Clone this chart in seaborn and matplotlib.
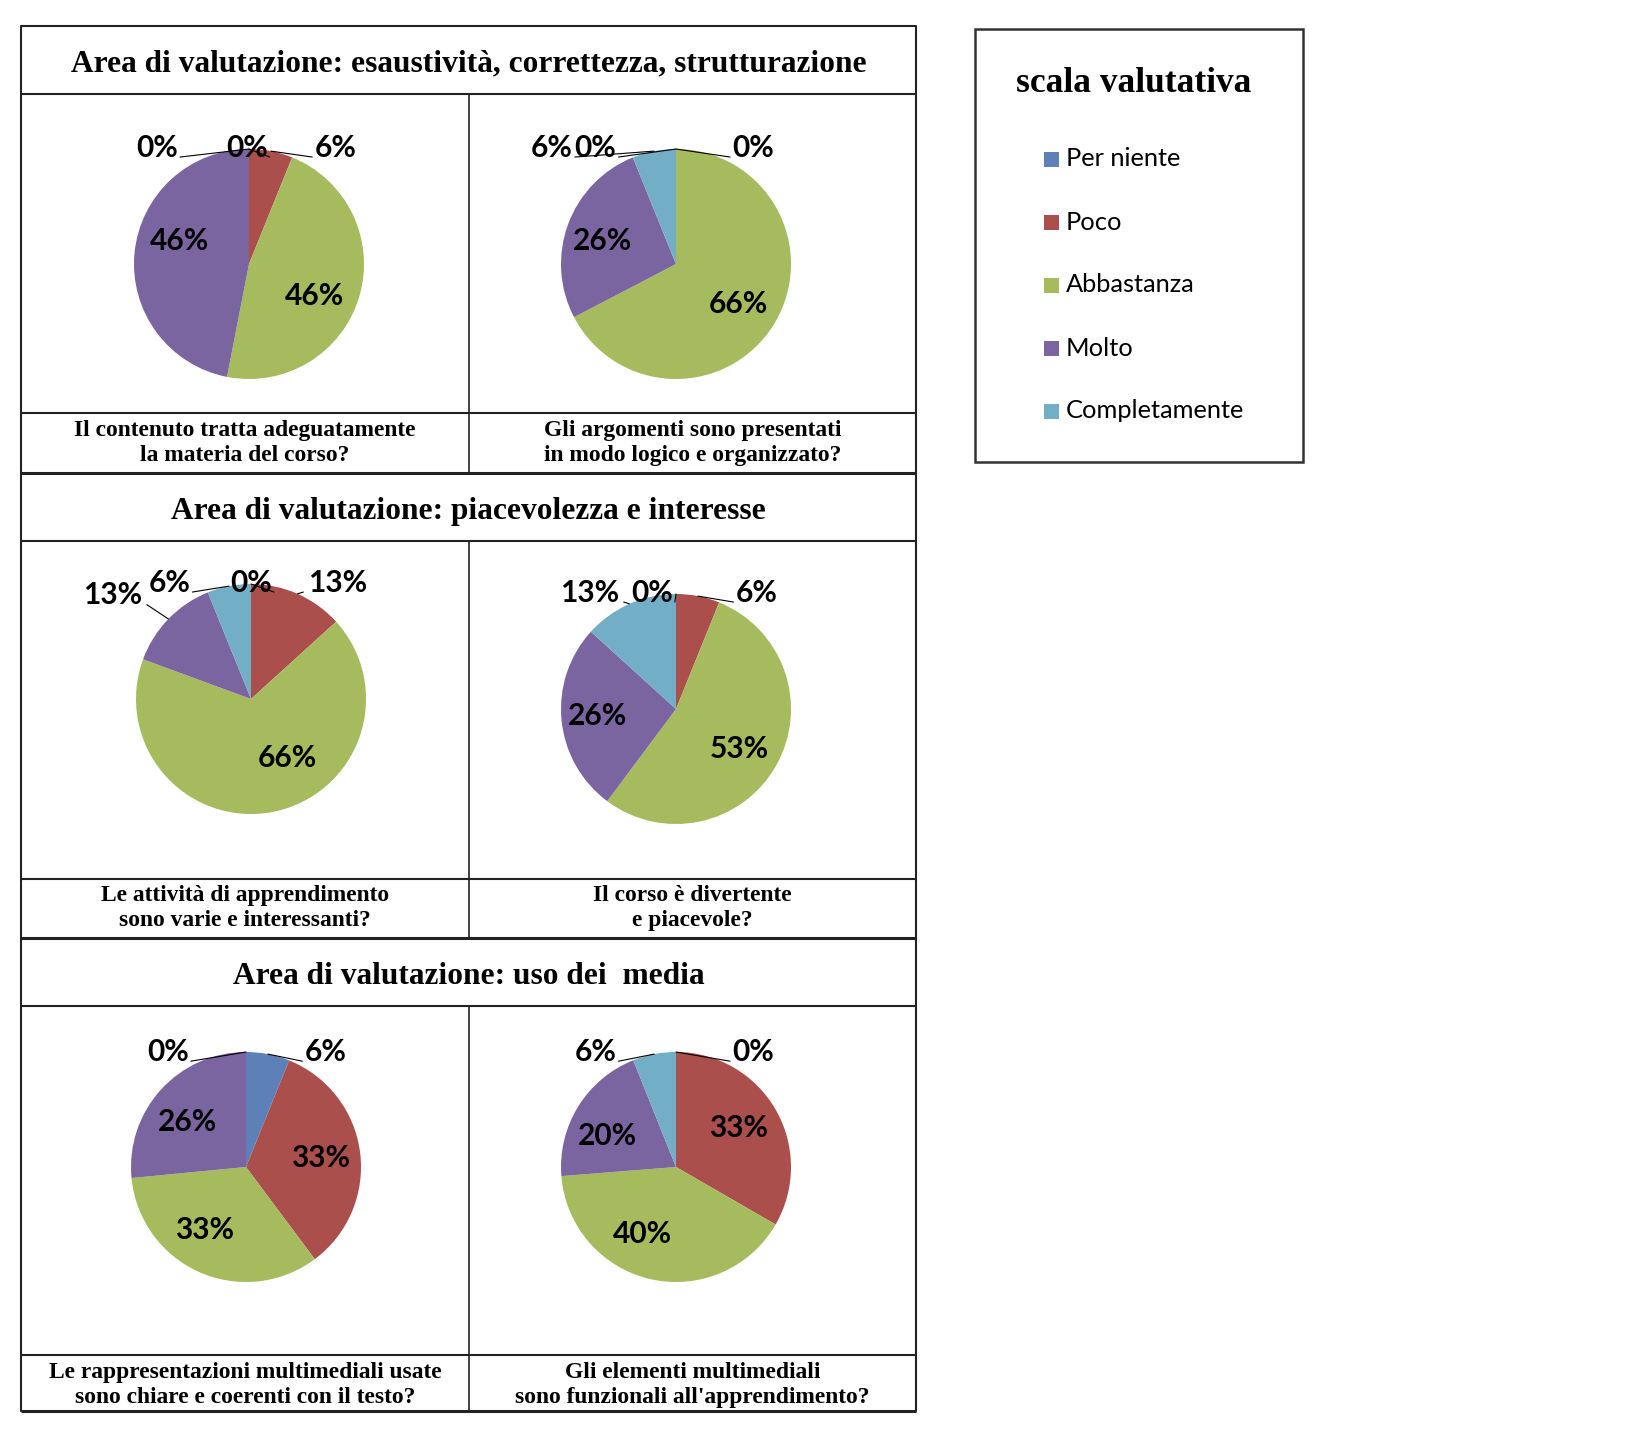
import numpy as np
import matplotlib
matplotlib.use("Agg")
import matplotlib.pyplot as plt
import seaborn as sns
from matplotlib.patches import Rectangle

# %% Dati
categorie = ["Per niente", "Poco", "Abbastanza", "Molto", "Completamente"]

aree = [
    "Area di valutazione: esaustività, correttezza, strutturazione",
    "Area di valutazione: piacevolezza e interesse",
    "Area di valutazione: uso dei  media",
]

domande = [
    "Il contenuto tratta adeguatamente\nla materia del corso?",
    "Gli argomenti sono presentati\nin modo logico e organizzato?",
    "Le attività di apprendimento\nsono varie e interessanti?",
    "Il corso è divertente\ne piacevole?",
    "Le rappresentazioni multimediali usate\nsono chiare e coerenti con il testo?",
    "Gli elementi multimediali\nsono funzionali all'apprendimento?",
]

# percentuali (Per niente, Poco, Abbastanza, Molto, Completamente)
contenuto = [0, 6, 46, 46, 0]
argomenti = [0, 0, 66, 26, 6]
attivita = [0, 13, 66, 13, 6]
divertente = [0, 6, 53, 26, 13]
rappresentazioni = [6, 33, 33, 26, 0]
elementi = [0, 33, 40, 20, 6]
serie = [contenuto, argomenti, attivita, divertente, rappresentazioni, elementi]

# %% Layout (pixel della figura, y dall'alto)
W, H = 1641, 1431
colori = sns.color_palette(["#5E80B9", "#AA4F4C", "#A5BB5E", "#7B65A0", "#72AFC7"])

sns.set_theme(style="white")
plt.rcParams['font.family'] = ['Lato', 'DejaVu Sans']
plt.rcParams['text.color'] = 'black'

fig = plt.figure(figsize=(W / 100, H / 100), dpi=100)

def fx(x):
    return x / W

def fy(y):
    return 1 - y / H

# tabella
bg = fig.add_axes([0, 0, 1, 1])
bg.set_xlim(0, W)
bg.set_ylim(H, 0)
bg.axis('off')

left, right, mid = 21, 916, 469
righe = [26, 94, 413, 473, 541, 879, 938, 1006, 1355, 1411]
for i, y in enumerate(righe):
    lw = 2.2 if i in (3, 6, 9) else 1.5
    bg.plot([left, right], [y, y], color='#222222', lw=lw, solid_capstyle='butt')
bg.plot([left, left], [righe[0], righe[-1]], color='#222222', lw=1.5)
bg.plot([right, right], [righe[0], righe[-1]], color='#222222', lw=1.5)
for a, b in [(94, 473), (541, 938), (1006, 1411)]:
    bg.plot([mid, mid], [a, b], color='#222222', lw=1.2)

serif = ['Liberation Serif', 'DejaVu Serif']
for titolo, y in zip(aree, [64, 511, 976]):
    bg.text((left + right) / 2, y, titolo, ha='center', va='center', color='black',
            family=serif, fontweight='bold', fontsize=22.6)

col_x = [(left + mid) / 2, (mid + right) / 2]
cap_y = [443, 908, 1385]
for k, testo in enumerate(domande):
    bg.text(col_x[k % 2], cap_y[k // 2], testo, ha='center', va='center', color='black',
            family=serif, fontweight='bold', fontsize=16.9, linespacing=1.25)

# legenda
bg.add_patch(Rectangle((975, 29), 328, 433, fill=False, edgecolor='#333333', lw=1.8))
bg.text(1134, 84, "scala valutativa", ha='center', va='center', color='black',
        family=serif, fontweight='bold', fontsize=25.5)
for i, (cat, c) in enumerate(zip(categorie, colori)):
    y = 159 + i * 63
    bg.add_patch(Rectangle((1044, y - 7.5), 15, 15, color=c, lw=0))
    bg.text(1066, y, cat, ha='left', va='center', fontsize=18.3, color='black')

# %% Torte
centri = [(249, 264), (676, 264), (251, 699), (676, 709), (246, 1167), (676, 1167)]
R = 115
ext = 1.45

# posizioni etichette (in raggi, y verso l'alto)
pos_etichette = [
    [(-0.02, 1.01), (0.75, 1.01), (0.57, -0.28), (-0.60, 0.20), (-0.80, 1.01)],
    [(-0.70, 1.01), (0.67, 1.01), (0.54, -0.35), (-0.64, 0.20), (-1.08, 1.01)],
    [(0.00, 1.01), (0.75, 1.01), (0.32, -0.51), (-1.20, 0.90), (-0.71, 1.01)],
    [(-0.21, 1.01), (0.70, 1.01), (0.55, -0.35), (-0.68, -0.06), (-0.75, 1.01)],
    [(0.69, 1.00), (0.65, 0.08), (-0.36, -0.55), (-0.51, 0.39), (-0.68, 1.00)],
    [(0.67, 1.00), (0.54, 0.34), (-0.29, -0.58), (-0.60, 0.27), (-0.70, 1.00)],
]

for valori, (cx, cy), posiz in zip(serie, centri, pos_etichette):
    size = 2 * ext * R
    ax = fig.add_axes([fx(cx - ext * R), fy(cy + ext * R), size / W, size / H])
    wedges, _ = ax.pie(valori, colors=colori, startangle=90, counterclock=False,
                       radius=1, wedgeprops=dict(linewidth=0))
    ax.set_xlim(-ext, ext)
    ax.set_ylim(-ext, ext)
    ax.set_aspect('equal')
    ax.axis('off')
    for v, w, (lx, ly) in zip(valori, wedges, posiz):
        s = f"{v}%"
        ax.text(lx, ly, s, ha='center', va='center', fontsize=21.5,
                fontweight='bold', color='black', zorder=5)
        if ly > 0.85:
            ang = np.deg2rad((w.theta1 + w.theta2) / 2)
            px, py = np.cos(ang), np.sin(ang)
            hw = 0.095 * len(s) + 0.01
            sx = lx + hw if lx < px else lx - hw
            ax.plot([sx, px], [ly - 0.08, py], color='black', lw=0.8, zorder=4)

fig.savefig("out.png", dpi=100, facecolor='white')
